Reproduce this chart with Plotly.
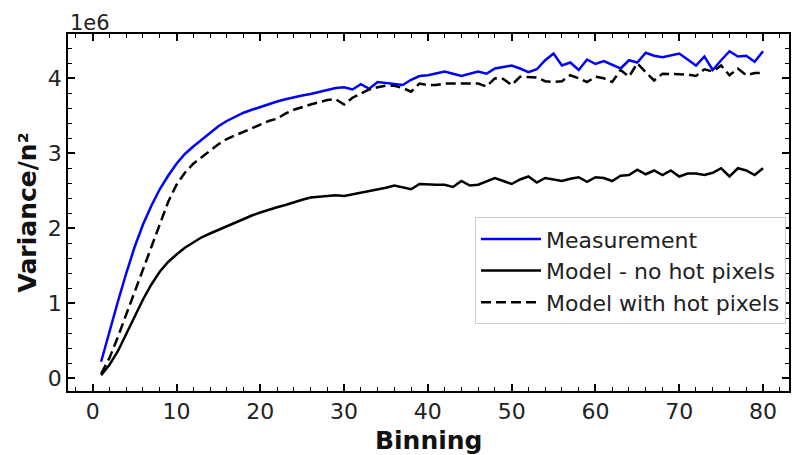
import plotly.graph_objects as go

binning = list(range(1, 81))

# values in units of 1e6
measurement = [
    0.22, 0.63, 1.02, 1.40, 1.75, 2.05, 2.30, 2.52, 2.70, 2.86,
    2.99, 3.09, 3.18, 3.28, 3.36, 3.43, 3.49, 3.54, 3.58, 3.62,
    3.66, 3.69, 3.72, 3.75, 3.77, 3.79, 3.82, 3.84, 3.87, 3.88,
    3.85, 3.92, 3.86, 3.95, 3.94, 3.92, 3.91, 3.98, 4.03, 4.04,
    4.07, 4.09, 4.06, 4.03, 4.06, 4.09, 4.06, 4.13, 4.15, 4.17,
    4.13, 4.08, 4.12, 4.24, 4.33, 4.17, 4.21, 4.11, 4.25, 4.19,
    4.23, 4.18, 4.13, 4.24, 4.21, 4.34, 4.30, 4.28, 4.30, 4.33,
    4.25, 4.17, 4.29, 4.11, 4.24, 4.36, 4.29, 4.30, 4.22, 4.36,
]

model_no_hot = [
    0.04, 0.18, 0.36, 0.58, 0.82, 1.05, 1.25, 1.42, 1.55, 1.65,
    1.74, 1.81, 1.88, 1.93, 1.98, 2.03, 2.08, 2.13, 2.17, 2.21,
    2.25, 2.28, 2.31, 2.35, 2.38, 2.41, 2.42, 2.43, 2.44, 2.43,
    2.45, 2.48, 2.50, 2.52, 2.54, 2.57, 2.54, 2.52, 2.59, 2.58,
    2.58, 2.58, 2.55, 2.63, 2.57, 2.58, 2.62, 2.67, 2.63, 2.59,
    2.65, 2.69, 2.61, 2.67, 2.65, 2.63, 2.66, 2.68, 2.62, 2.68,
    2.67, 2.63, 2.70, 2.71, 2.78, 2.72, 2.77, 2.71, 2.77, 2.69,
    2.73, 2.73, 2.71, 2.74, 2.80, 2.69, 2.80, 2.77, 2.71, 2.80,
]

model_hot = [
    0.06, 0.27, 0.55, 0.85, 1.15, 1.47, 1.77, 2.07, 2.35, 2.58,
    2.74, 2.86, 2.95, 3.04, 3.12, 3.19, 3.24, 3.29, 3.34, 3.38,
    3.43, 3.46, 3.53, 3.58, 3.62, 3.65, 3.68, 3.71, 3.72, 3.65,
    3.74, 3.80, 3.85, 3.88, 3.90, 3.90, 3.87, 3.82, 3.93, 3.91,
    3.91, 3.93, 3.93, 3.94, 3.93, 3.93, 3.89, 4.00, 3.99, 3.91,
    4.02, 4.01, 4.01, 3.96, 3.95, 3.96, 4.04, 4.00, 3.95, 4.02,
    4.00, 3.95, 4.11, 4.02, 4.20, 4.08, 3.97, 4.06, 4.06, 4.05,
    4.05, 4.03, 4.12, 4.09, 4.17, 4.04, 4.13, 4.04, 4.07, 4.07,
]

FONT = "DejaVu Sans"

fig = go.Figure()
fig.add_trace(go.Scatter(x=binning, y=measurement, mode="lines", name="Measurement",
                         line=dict(color="#0000ff", width=2.5)))
fig.add_trace(go.Scatter(x=binning, y=model_no_hot, mode="lines", name="Model - no hot pixels",
                         line=dict(color="#000000", width=2.5)))
fig.add_trace(go.Scatter(x=binning, y=model_hot, mode="lines", name="Model with hot pixels",
                         line=dict(color="#000000", width=2.5, dash="10px,5px")))

axis_common = dict(
    showgrid=False, zeroline=False, showline=True, linecolor="black", linewidth=1.5,
    mirror="allticks", ticks="inside", ticklen=7, tickwidth=1.5, tickcolor="black",
    tickfont=dict(family=FONT, size=22, color="#222222"), automargin=False,
)

fig.update_layout(
    width=792, height=455,
    margin=dict(l=68, r=3, t=34, b=64),
    plot_bgcolor="white", paper_bgcolor="white",
    font=dict(family=FONT, color="#222222"),
    xaxis=dict(range=[-2.95, 83.1], tick0=0, dtick=10,
               minor=dict(dtick=2, ticks="inside", ticklen=4, tickwidth=1, tickcolor="black", showgrid=False),
               **axis_common),
    yaxis=dict(range=[-0.17, 4.59], tick0=0, dtick=1,
               minor=dict(dtick=0.2, ticks="inside", ticklen=4, tickwidth=1, tickcolor="black", showgrid=False),
               **axis_common),
    legend=dict(x=0.5645, y=0.487, xanchor="left", yanchor="top", itemwidth=60,
                bgcolor="white", bordercolor="#cccccc", borderwidth=1,
                font=dict(family=FONT, size=22, color="#222222")),
    showlegend=True,
    annotations=[
        dict(text="1e6", x=0, y=1, xref="paper", yref="paper",
             xanchor="left", yanchor="bottom", showarrow=False, yshift=-3,
             font=dict(family=FONT, size=21, color="#222222")),
        dict(text="<b>Binning</b>", x=0.5, y=-0.14, xref="paper", yref="paper",
             xanchor="center", yanchor="middle", showarrow=False,
             font=dict(family=FONT, size=25, color="#111111")),
        dict(text="<b>Variance/n²</b>", x=-0.0555, y=0.5, xref="paper", yref="paper",
             xanchor="center", yanchor="middle", showarrow=False, textangle=-90,
             font=dict(family=FONT, size=25, color="#111111")),
    ],
)

fig.write_html("out.html", config={"displayModeBar": False},
               post_script="document.body.style.margin='0px';document.body.style.overflow='hidden';")
